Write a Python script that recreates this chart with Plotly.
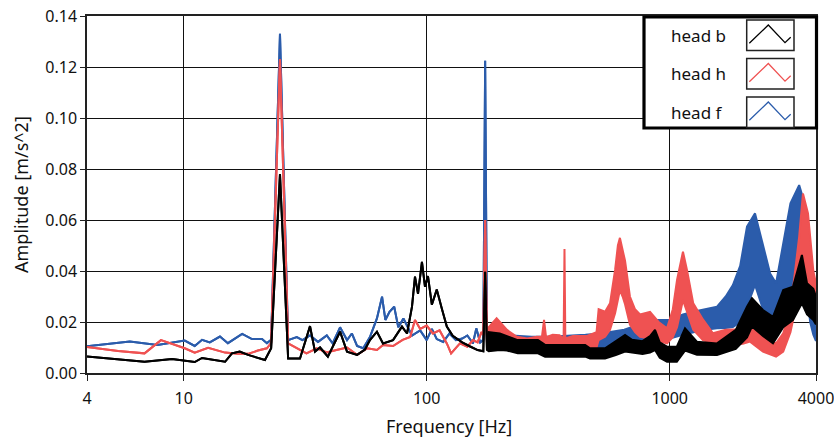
import math
import plotly.graph_objects as go

# ---------------- data ----------------
x_tickvals = [4, 10, 100, 1000, 4000]
x_ticktext = ["4", "10", "100", "1000", "4000"]
series_names = ["head b", "head h", "head f"]

# head f (blue): single-line part
f_line_f = [4, 6.0, 7.8, 10.1, 11.1, 11.9, 12.8, 14.1, 15.2, 17.4, 19.1, 21.0, 22.0, 22.9,
            24.9, 26.9, 29.2, 30.8, 33.1, 35.7, 38.8, 41.0, 44.0, 47.0, 49.2, 51.7, 54.8,
            58.4, 62.4, 65.5, 67.6, 70.3, 73.5, 76.4, 80.2, 87, 94, 100, 105, 110, 117, 124,
            132, 140, 147, 155, 160, 166, 171, 174, 177]
f_line_a = [0.0105, 0.0123, 0.0110, 0.0127, 0.0106, 0.0130, 0.0120, 0.0143, 0.0117, 0.0153,
            0.0133, 0.0133, 0.0117, 0.0130, 0.1330, 0.0129, 0.0141, 0.0129, 0.0147, 0.0122,
            0.0147, 0.0116, 0.0179, 0.0129, 0.0155, 0.0106, 0.0097, 0.0141, 0.0214, 0.0299,
            0.0208, 0.0240, 0.0260, 0.0179, 0.0214, 0.0147, 0.0167, 0.0129, 0.0173, 0.0133,
            0.0122, 0.0155, 0.0129, 0.0135, 0.0147, 0.0116, 0.0175, 0.0120, 0.0130, 0.1224,
            0.0130]
# head f (blue): noisy band part (lower / upper envelope)
f_band_f = [180, 200, 230, 270, 320, 380, 450, 520, 600, 650, 750, 830, 1000, 1134, 1250,
            1400, 1566, 1700, 1820, 1950, 2080, 2245, 2420, 2590, 2740, 2932, 3140, 3410,
            3630, 3785, 3900, 4000]
f_band_lo = [0.0100, 0.0098, 0.0095, 0.0090, 0.0088, 0.0090, 0.0092, 0.0098, 0.0105, 0.0110,
             0.0125, 0.0129, 0.0135, 0.0150, 0.0160, 0.0170, 0.0175, 0.0176, 0.0180, 0.0200,
             0.0260, 0.0345, 0.0250, 0.0230, 0.0220, 0.0300, 0.0330, 0.0400, 0.0360, 0.0200,
             0.0150, 0.0125]
f_band_hi = [0.0160, 0.0150, 0.0145, 0.0142, 0.0142, 0.0145, 0.0150, 0.0155, 0.0165, 0.0170,
             0.0190, 0.0208, 0.0208, 0.0230, 0.0240, 0.0250, 0.0260, 0.0300, 0.0345, 0.0420,
             0.0574, 0.0626, 0.0508, 0.0390, 0.0352, 0.0508, 0.0665, 0.0737, 0.0650, 0.0400,
             0.0250, 0.0180]

# head h (red): single-line part
h_line_f = [4, 5.37, 6.9, 8.06, 10.1, 11.1, 12.6, 14.8, 16.7, 18.4, 20.2, 22.0, 22.9, 24.9,
            26.9, 29.2, 32.0, 35.3, 38.8, 42.5, 47.0, 51.7, 57.0, 62.4, 66.1, 72.7, 79.6,
            85.5, 89.5, 94, 100, 106, 113, 121, 126, 137, 147, 155, 162, 168, 171, 174, 177]
h_line_a = [0.0102, 0.0086, 0.0077, 0.0129, 0.0097, 0.0080, 0.0099, 0.0080, 0.0075, 0.0075,
            0.0088, 0.0097, 0.0118, 0.1230, 0.0116, 0.0097, 0.0077, 0.0097, 0.0081, 0.0090,
            0.0100, 0.0071, 0.0097, 0.0090, 0.0110, 0.0106, 0.0130, 0.0141, 0.0208, 0.0173,
            0.0186, 0.0155, 0.0167, 0.0116, 0.0077, 0.0116, 0.0103, 0.0129, 0.0120, 0.0160,
            0.0150, 0.0600, 0.0120]
# head h (red): noisy band part
h_band_f = [180, 194, 214, 235, 259, 284, 298, 304, 310, 330, 352, 366, 369, 372, 400, 457,
            500, 510, 542, 568, 596, 612, 624, 640, 655, 686, 720, 755, 830, 900, 975, 1030,
            1072, 1134, 1180, 1250, 1370, 1507, 1700, 2000, 2141, 2420, 2740, 2932, 3140,
            3410, 3535, 3708, 3900, 4000]
h_band_lo = [0.0105, 0.0160, 0.0103, 0.0090, 0.0080, 0.0082, 0.0082, 0.0085, 0.0082, 0.0085,
             0.0085, 0.0090, 0.0090, 0.0090, 0.0092, 0.0088, 0.0100, 0.0129, 0.0142, 0.0169,
             0.0234, 0.0290, 0.0325, 0.0300, 0.0270, 0.0190, 0.0160, 0.0142, 0.0135, 0.0125,
             0.0116, 0.0140, 0.0180, 0.0286, 0.0240, 0.0170, 0.0129, 0.0116, 0.0110, 0.0115,
             0.0123, 0.0084, 0.0064, 0.0084, 0.0160, 0.0320, 0.0450, 0.0330, 0.0260, 0.0250]
h_band_hi = [0.0180, 0.0215, 0.0169, 0.0142, 0.0135, 0.0142, 0.0142, 0.0208, 0.0140, 0.0150,
             0.0148, 0.0135, 0.0486, 0.0135, 0.0145, 0.0145, 0.0160, 0.0250, 0.0240, 0.0273,
             0.0404, 0.0500, 0.0530, 0.0480, 0.0440, 0.0300, 0.0250, 0.0230, 0.0240, 0.0200,
             0.0175, 0.0250, 0.0365, 0.0476, 0.0400, 0.0273, 0.0210, 0.0156, 0.0170, 0.0172,
             0.0180, 0.0142, 0.0116, 0.0156, 0.0247, 0.0534, 0.0704, 0.0626, 0.0400, 0.0350]

# head b (black): single-line part
b_line_f = [4, 6.9, 8.96, 10.1, 11.1, 11.9, 14.8, 15.8, 17.0, 18.4, 21.6, 22.9, 24.9, 26.9,
            30.1, 33.1, 34.7, 36.4, 39.2, 44.0, 47.0, 51.7, 55.7, 58.4, 62.4, 66.1, 72.7, 79.1,
            83.0, 87.0, 89.5, 92.1, 95.6, 98.4, 101.2, 105, 110, 115.6, 121, 128, 140, 151,
            162, 171, 174, 177]
b_line_a = [0.0065, 0.0044, 0.0055, 0.0049, 0.0043, 0.0059, 0.0044, 0.0077, 0.0084, 0.0071,
            0.0051, 0.0097, 0.0780, 0.0057, 0.0057, 0.0184, 0.0084, 0.0100, 0.0064, 0.0162,
            0.0084, 0.0071, 0.0092, 0.0129, 0.0162, 0.0116, 0.0129, 0.0182, 0.0155, 0.0260,
            0.0378, 0.0310, 0.0436, 0.0338, 0.0380, 0.0268, 0.0327, 0.0250, 0.0182, 0.0146,
            0.0120, 0.0104, 0.0090, 0.0085, 0.0397, 0.0090]
# head b (black): noisy band part
b_band_f = [180, 200, 214, 237, 287, 307, 449, 470, 542, 600, 655, 700, 773, 830, 870, 910,
            975, 1070, 1156, 1294, 1566, 1870, 2080, 2180, 2420, 2661, 2932, 3216, 3500, 3673,
            3900, 4000]
b_band_lo = [0.0085, 0.0090, 0.0088, 0.0077, 0.0077, 0.0064, 0.0064, 0.0057, 0.0057, 0.0070,
             0.0084, 0.0080, 0.0075, 0.0080, 0.0090, 0.0060, 0.0044, 0.0044, 0.0088, 0.0072,
             0.0071, 0.0095, 0.0140, 0.0182, 0.0145, 0.0116, 0.0180, 0.0208, 0.0273, 0.0230,
             0.0208, 0.0190]
b_band_hi = [0.0160, 0.0155, 0.0145, 0.0129, 0.0129, 0.0110, 0.0110, 0.0097, 0.0097, 0.0125,
             0.0149, 0.0130, 0.0125, 0.0145, 0.0169, 0.0120, 0.0103, 0.0103, 0.0175, 0.0123,
             0.0116, 0.0169, 0.0260, 0.0293, 0.0247, 0.0220, 0.0325, 0.0338, 0.0463, 0.0352,
             0.0330, 0.0300]

# ---------------- styling ----------------
BLUE = "#2b5cab"
RED = "#ef5252"
BLACK = "#000000"
FONT = "Noto Sans"
TXT = "#111111"

W, H = 834, 437
L, R, T, B = 87, 816, 16, 373  # plot-area pixel edges


def px(x):
    return (x - L) / (R - L)


def py(y):
    return (B - y) / (B - T)


fig = go.Figure()


def add_series(name, lf, la, bf, blo, bhi, color):
    f = lf + bf
    lo = la + blo
    hi = la + bhi
    fig.add_trace(go.Scatter(x=f, y=lo, mode="lines", name=name,
                             line=dict(color=color, width=2), showlegend=False))
    fig.add_trace(go.Scatter(x=f, y=hi, mode="lines", name=name,
                             line=dict(color=color, width=2), fill="tonexty",
                             fillcolor=color, showlegend=False))


add_series(series_names[2], f_line_f, f_line_a, f_band_f, f_band_lo, f_band_hi, BLUE)
add_series(series_names[1], h_line_f, h_line_a, h_band_f, h_band_lo, h_band_hi, RED)
add_series(series_names[0], b_line_f, b_line_a, b_band_f, b_band_lo, b_band_hi, BLACK)

fig.update_layout(
    width=W, height=H,
    margin=dict(l=L, r=W - R, t=T, b=H - B, pad=0, autoexpand=False),
    plot_bgcolor="white", paper_bgcolor="white",
    font=dict(family=FONT, size=16, color=TXT),
    showlegend=False,
)
fig.update_xaxes(
    type="log", range=[math.log10(4) - 1e-5, math.log10(4000) + 1e-5],
    tickvals=x_tickvals, ticktext=x_ticktext,
    showgrid=True, gridcolor="#111111", gridwidth=1.2,
    showline=True, linecolor="#222222", linewidth=1.5, mirror=True,
    ticks="outside", ticklen=6, tickcolor="#222222", tickwidth=1.2,
    ticklabelstandoff=4, ticklabeloverflow="allow", automargin=False, zeroline=False,
)
fig.update_yaxes(
    range=[0, 0.14], dtick=0.02, tickformat=".2f",
    showgrid=True, gridcolor="#111111", gridwidth=1.2,
    showline=True, linecolor="#222222", linewidth=1.5, mirror=True,
    ticks="outside", ticklen=5, tickcolor="#222222", tickwidth=1.2,
    automargin=False, zeroline=False,
)

annotations = [
    dict(text="Frequency [Hz]", x=px(449), y=py(426), xref="paper", yref="paper",
         showarrow=False, font=dict(size=18, family=FONT, color=TXT),
         xanchor="center", yanchor="middle"),
    dict(text="Amplitude [m/s^2]", x=px(21), y=py(195), xref="paper", yref="paper",
         showarrow=False, textangle=-90, font=dict(size=18, family=FONT, color=TXT),
         xanchor="center", yanchor="middle"),
]

shapes = [
    dict(type="rect", xref="paper", yref="paper", x0=px(644), x1=px(816.5), y0=py(128),
         y1=py(17), line=dict(color="#000000", width=3.2), fillcolor="white", layer="above"),
]

legend_colors = [BLACK, RED, BLUE]
box_tops = [20, 58.5, 97]
for name, col, top in zip(series_names, legend_colors, box_tops):
    bx0, bx1 = 746.7, 794
    by0, by1 = top, top + 30.5
    shapes.append(dict(type="rect", xref="paper", yref="paper", x0=px(bx0), x1=px(bx1),
                       y0=py(by1), y1=py(by0), line=dict(color="#222222", width=1.5),
                       fillcolor="white", layer="above"))
    pts = [(bx0 + 2.6, by0 + 23.3), (bx0 + 21.6, by0 + 5), (bx0 + 38.3, by0 + 22.7),
           (bx0 + 44, by0 + 17.3)]
    path = "M " + " L ".join(f"{px(a):.5f},{py(b):.5f}" for a, b in pts)
    shapes.append(dict(type="path", xref="paper", yref="paper", path=path,
                       line=dict(color=col, width=1.3), layer="above"))
    annotations.append(dict(text=name, x=px(669), y=py(top + 15), xref="paper",
                            yref="paper", showarrow=False, xanchor="left",
                            yanchor="middle", font=dict(size=17, family=FONT, color=TXT)))

fig.update_layout(shapes=shapes, annotations=annotations)

fig.write_html("out.html", config={"displayModeBar": False},
               post_script="document.body.style.margin='0';")
